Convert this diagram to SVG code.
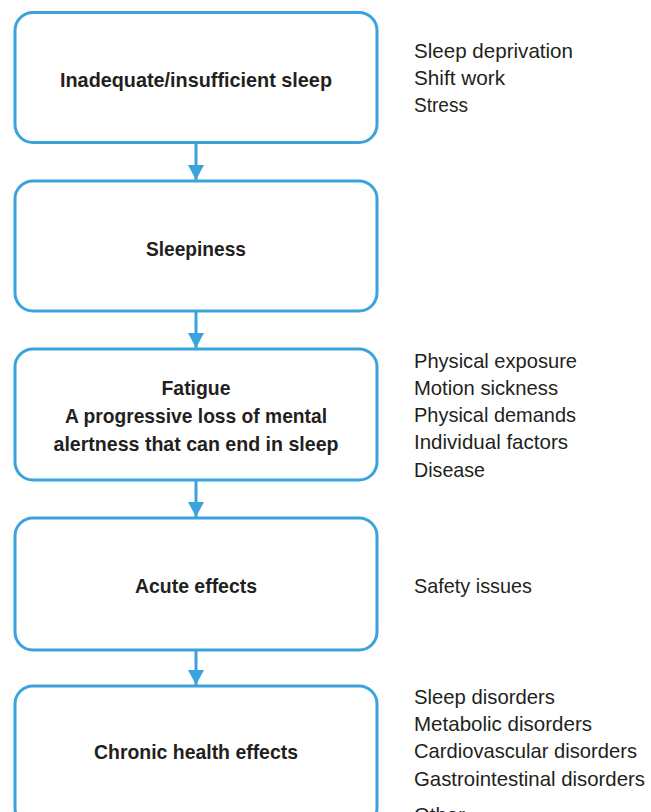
<svg xmlns="http://www.w3.org/2000/svg" width="651" height="812" viewBox="0 0 651 812">
  <defs>
    <style>
      .box { fill: #ffffff; stroke: #3aa3de; stroke-width: 3; }
      .lbl { font-family: "Liberation Sans", Arial, sans-serif; font-size: 21px; font-weight: bold; fill: #231f20; text-anchor: middle; }
      .side { font-family: "Liberation Sans", Arial, sans-serif; font-size: 21px; fill: #231f20; }
      .conn { stroke: #3aa3de; stroke-width: 3; fill: none; }
    </style>
    <marker id="arrow" viewBox="0 0 15 16" refX="15" refY="8" markerWidth="15" markerHeight="16" markerUnits="userSpaceOnUse" orient="auto">
      <path d="M0,0 L15,8 L0,16 Z" fill="#3aa3de"/>
    </marker>
  </defs>
  <rect width="651" height="812" fill="#ffffff"/>

  <g id="connectors">
    <line class="conn" x1="196" y1="143" x2="196" y2="180" marker-end="url(#arrow)"/>
    <line class="conn" x1="196" y1="311" x2="196" y2="348" marker-end="url(#arrow)"/>
    <line class="conn" x1="196" y1="480" x2="196" y2="517" marker-end="url(#arrow)"/>
    <line class="conn" x1="196" y1="650" x2="196" y2="685" marker-end="url(#arrow)"/>
  </g>

  <g id="node-inadequate">
    <rect class="box" x="15" y="12.5" width="362" height="130" rx="18"/>
    <text class="lbl" x="196" y="87" textLength="272" lengthAdjust="spacingAndGlyphs">Inadequate/insufficient sleep</text>
  </g>
  <g id="node-sleepiness">
    <rect class="box" x="15" y="181" width="362" height="130" rx="18"/>
    <text class="lbl" x="196" y="256" textLength="100" lengthAdjust="spacingAndGlyphs">Sleepiness</text>
  </g>
  <g id="node-fatigue">
    <rect class="box" x="15" y="349" width="362" height="131" rx="18"/>
    <text class="lbl" x="196" y="395" textLength="69" lengthAdjust="spacingAndGlyphs">Fatigue</text>
    <text class="lbl" x="196" y="423" textLength="262" lengthAdjust="spacingAndGlyphs">A progressive loss of mental</text>
    <text class="lbl" x="196" y="451" textLength="285" lengthAdjust="spacingAndGlyphs">alertness that can end in sleep</text>
  </g>
  <g id="node-acute">
    <rect class="box" x="15" y="518" width="362" height="132" rx="18"/>
    <text class="lbl" x="196" y="593" textLength="122" lengthAdjust="spacingAndGlyphs">Acute effects</text>
  </g>
  <g id="node-chronic">
    <rect class="box" x="15" y="686" width="362" height="140" rx="18"/>
    <text class="lbl" x="196" y="759" textLength="204" lengthAdjust="spacingAndGlyphs">Chronic health effects</text>
  </g>

  <g id="causes-sleep">
    <text class="side" x="414" y="58" textLength="159" lengthAdjust="spacingAndGlyphs">Sleep deprivation</text>
    <text class="side" x="414" y="85" textLength="91" lengthAdjust="spacingAndGlyphs">Shift work</text>
    <text class="side" x="414" y="112" textLength="54" lengthAdjust="spacingAndGlyphs">Stress</text>
  </g>
  <g id="causes-fatigue">
    <text class="side" x="414" y="368" textLength="163" lengthAdjust="spacingAndGlyphs">Physical exposure</text>
    <text class="side" x="414" y="395" textLength="144" lengthAdjust="spacingAndGlyphs">Motion sickness</text>
    <text class="side" x="414" y="422" textLength="162" lengthAdjust="spacingAndGlyphs">Physical demands</text>
    <text class="side" x="414" y="449" textLength="154" lengthAdjust="spacingAndGlyphs">Individual factors</text>
    <text class="side" x="414" y="477" textLength="71" lengthAdjust="spacingAndGlyphs">Disease</text>
  </g>
  <g id="acute-list">
    <text class="side" x="414" y="593" textLength="118" lengthAdjust="spacingAndGlyphs">Safety issues</text>
  </g>
  <g id="chronic-list">
    <text class="side" x="414" y="704" textLength="141" lengthAdjust="spacingAndGlyphs">Sleep disorders</text>
    <text class="side" x="414" y="731" textLength="178" lengthAdjust="spacingAndGlyphs">Metabolic disorders</text>
    <text class="side" x="414" y="758" textLength="223" lengthAdjust="spacingAndGlyphs">Cardiovascular disorders</text>
    <text class="side" x="414" y="786" textLength="231" lengthAdjust="spacingAndGlyphs">Gastrointestinal disorders</text>
    <text class="side" x="414" y="822" textLength="51" lengthAdjust="spacingAndGlyphs">Other</text>
  </g>
</svg>
